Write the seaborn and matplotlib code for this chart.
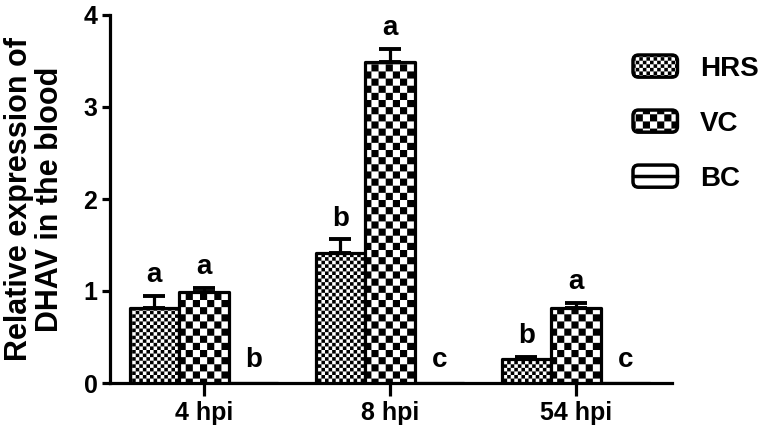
import numpy as np
import pandas as pd
import matplotlib
matplotlib.use("Agg")
import matplotlib.pyplot as plt
import matplotlib.hatch as mhatch
from matplotlib.path import Path
from matplotlib.patches import Patch, FancyBboxPatch
from matplotlib.lines import Line2D
from matplotlib.legend_handler import HandlerBase
import seaborn as sns

# ---------------- data ----------------
timepoints = ["4 hpi", "8 hpi", "54 hpi"]
groups = ["HRS", "VC", "BC"]
hrs_vals = [0.82, 1.41, 0.26]
vc_vals = [0.99, 3.49, 0.82]
bc_vals = [0.0, 0.0, 0.0]
hrs_err = [0.13, 0.15, 0.02]
vc_err = [0.04, 0.14, 0.05]
bc_err = [0.0, 0.0, 0.0]
hrs_letters = ["a", "b", "b"]
vc_letters = ["a", "a", "a"]
bc_letters = ["b", "c", "c"]
y_ticks = [0, 1, 2, 3, 4]
y_label = "Relative expression of\nDHAV in the blood"


# ------------- checkerboard hatch -------------
class Checker(mhatch.HatchPatternBase):
    def __init__(self, hatch, density):
        if "O" in hatch:
            self.n = 14
        elif "o" in hatch:
            self.n = 28
        else:
            self.n = 0
        self.num_vertices = (self.n * self.n // 2) * 5 if self.n else 0

    def set_vertices_and_codes(self, vertices, codes):
        n = self.n
        s = 1.0 / n
        verts, cds = [], []
        for i in range(n):
            for j in range(n):
                if (i + j) % 2 == 0:
                    x0, y0 = i * s, j * s
                    verts.append([[x0, y0], [x0 + s, y0], [x0 + s, y0 + s],
                                  [x0, y0 + s], [x0, y0]])
                    cds.append([Path.MOVETO, Path.LINETO, Path.LINETO,
                                Path.LINETO, Path.CLOSEPOLY])
        vertices[:] = np.concatenate(verts)
        codes[:] = np.concatenate(cds)


mhatch._hatch_types = [t for t in mhatch._hatch_types
                       if t not in (mhatch.SmallCircles, mhatch.LargeCircles)] + [Checker]

sns.set_style("ticks")
plt.rcParams["font.family"] = ["Liberation Sans", "DejaVu Sans"]
plt.rcParams["font.weight"] = "bold"
plt.rcParams["hatch.linewidth"] = 0.0
plt.rcParams["hatch.color"] = "black"
for k in ["text.color", "axes.labelcolor", "xtick.color", "ytick.color",
          "axes.edgecolor"]:
    plt.rcParams[k] = "black"

hatches = {"HRS": "o", "VC": "O", "BC": None}

df = pd.DataFrame({
    "time": timepoints * 3,
    "group": ["HRS"] * 3 + ["VC"] * 3 + ["BC"] * 3,
    "value": hrs_vals + vc_vals + bc_vals,
})
errs = {"HRS": hrs_err, "VC": vc_err, "BC": bc_err}
letters = {"HRS": hrs_letters, "VC": vc_letters, "BC": bc_letters}

fig = plt.figure(figsize=(7.65, 4.36), dpi=100)
ax = fig.add_axes([110 / 765, 1 - 383 / 436, (672 - 110) / 765, (383 - 15) / 436])

sns.barplot(data=df, x="time", y="value", hue="group", order=timepoints,
            hue_order=groups, palette={g: "white" for g in groups},
            edgecolor="black", linewidth=2.3, errorbar=None, legend=False,
            saturation=1, ax=ax)

for cont, g in zip(ax.containers, groups):
    for j, p in enumerate(cont.patches):
        p.set_hatch(hatches[g])
        p.set_joinstyle("round")
        p.set_zorder(3)
        xc = p.get_x() + p.get_width() / 2
        top = p.get_height()
        e = errs[g][j]
        if g != "BC":
            ax.errorbar(xc, top, yerr=[[0], [e]], fmt="none", ecolor="black",
                        elinewidth=2.3, capsize=8, capthick=2.8, zorder=2)
            ax.annotate(letters[g][j], xy=(xc, top + e), xytext=(0, 10),
                        textcoords="offset points", ha="center", va="baseline",
                        fontsize=20, fontweight="bold", color="black")
        else:
            ax.annotate(letters[g][j], xy=(xc, 0), xytext=(0, 11.5),
                        textcoords="offset points", ha="center", va="baseline",
                        fontsize=20, fontweight="bold", color="black")

ax.set_xlim(-0.505, 2.516)
ax.set_ylim(0, 4)
ax.set_yticks(y_ticks)
ax.set_yticklabels([str(t) for t in y_ticks])
ax.set_xlabel("")
ax.set_ylabel(y_label, fontsize=22, fontweight="bold", linespacing=1.05,
              color="black")
ax.yaxis.set_label_coords(-0.08, 0.5)
sns.despine(ax=ax)
for s in ["left", "bottom"]:
    ax.spines[s].set_linewidth(2.3)
    ax.spines[s].set_color("black")
ax.tick_params(axis="y", length=6, width=2.3, labelsize=18, pad=3,
               color="black", labelcolor="black")
ax.tick_params(axis="x", length=9, width=2.3, labelsize=18, pad=4,
               color="black", labelcolor="black")
for lab in ax.get_xticklabels() + ax.get_yticklabels():
    lab.set_fontweight("bold")


class RoundHandler(HandlerBase):
    def __init__(self, hatch=None, midline=False, **kw):
        super().__init__(**kw)
        self.hatch = hatch
        self.midline = midline

    def create_artists(self, legend, orig_handle, xdescent, ydescent, width,
                       height, fontsize, trans):
        box = FancyBboxPatch((-xdescent, -ydescent), width, height,
                             boxstyle="round,pad=0,rounding_size=4",
                             facecolor="white", edgecolor="black", lw=2.5,
                             hatch=self.hatch, transform=trans)
        arts = [box]
        if self.midline:
            arts.append(Line2D([-xdescent, -xdescent + width],
                               [-ydescent + height / 2] * 2, color="black",
                               lw=2.5, transform=trans))
        return arts


handles = [Patch(label=g) for g in groups]
hmap = {handles[0]: RoundHandler(hatch="o"),
        handles[1]: RoundHandler(hatch="O"),
        handles[2]: RoundHandler(midline=True)}
leg = fig.legend(handles=handles, labels=groups, handler_map=hmap,
                 loc="upper left", bbox_to_anchor=(633 / 765, 1 - 55 / 436),
                 frameon=False, prop={"size": 20, "weight": "bold"},
                 handlelength=1.6, handleheight=0.85, handletextpad=0.8,
                 labelspacing=1.02, borderpad=0, borderaxespad=0)
for t in leg.get_texts():
    t.set_color("black")

fig.savefig("out.png", dpi=100)
